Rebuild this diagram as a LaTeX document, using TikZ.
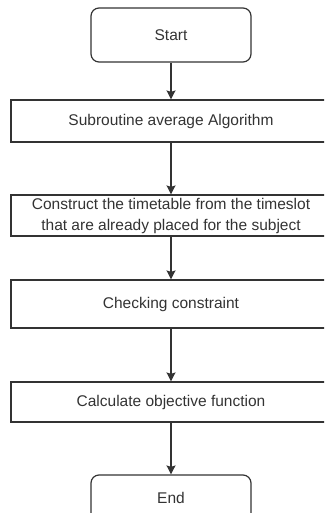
\documentclass[tikz,border=0pt]{standalone}
\usepackage{fontspec}
\setmainfont{Liberation Sans}
\usetikzlibrary{arrows.meta}
\definecolor{ink}{HTML}{333333}
\tikzset{
  base/.style={draw=ink, line width=1.2pt, text=ink, align=center,
    font=\fontsize{15.5}{21}\selectfont, inner sep=0pt},
  terminal/.style={base, rounded corners=8pt, minimum width=160pt},
  proc/.style={base, minimum width=320pt},
  flow/.style={draw=ink, line width=1.2pt,
    -{Stealth[length=9pt,width=9pt,inset=1.5pt]}}
}
\begin{document}
\begin{tikzpicture}[x=1pt,y=-1pt]
  \useasboundingbox (0,0) rectangle (324,513);
  \clip (0,0) rectangle (324,513);
  \node[terminal, minimum height=54pt] (start) at (171,35) {Start};
  \node[proc, minimum height=42pt] (sub) at (171,121) {Subroutine average Algorithm};
  \node[proc, minimum height=41pt] (build) at (171,215.5)
    {Construct the timetable from the timeslot\\that are already placed for the subject};
  \node[proc, minimum height=48pt] (check) at (171,304) {Checking constraint};
  \node[proc, minimum height=40pt] (calc) at (171,402) {Calculate objective function};
  \node[terminal, minimum height=54pt] (end) at (171,502) {\raisebox{9pt}{End}};
  \draw[flow] (start) -- (sub);
  \draw[flow] (sub) -- (build);
  \draw[flow] (build) -- (check);
  \draw[flow] (check) -- (calc);
  \draw[flow] (calc) -- (end);
\end{tikzpicture}
\end{document}
